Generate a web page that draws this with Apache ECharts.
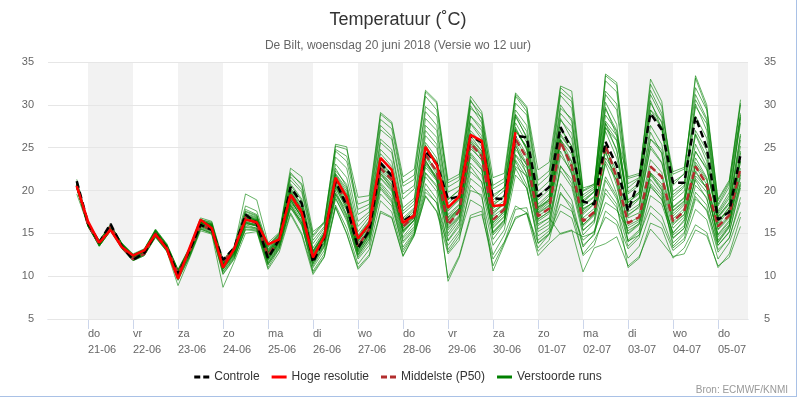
<!DOCTYPE html>
<html>
<head>
<meta charset="utf-8">
<title>Temperatuur De Bilt</title>
<script src="https://cdn.jsdelivr.net/npm/echarts@6/dist/echarts.min.js"></script>
<style>
  html, body { margin: 0; padding: 0; background: #fff; }
  #chart {
    width: 796px;
    height: 396px;
    border-right: 1px solid #a9c1e6;
    border-bottom: 1px solid #a9c1e6;
  }
</style>
</head>
<body>
<div id="chart"></div>
<script>
// tijdas: uren t.o.v. do 21-06 00 uur, eerste punt wo 20-06 18 uur, elke 6 uur
const stepHours = Array.from({ length: 60 }, (_, i) => -6 + 6 * i)

// dagen onder de as
const dayNames = ['do', 'vr', 'za', 'zo', 'ma', 'di', 'wo', 'do', 'vr', 'za', 'zo', 'ma', 'di', 'wo', 'do']
const dayDates = ['21-06', '22-06', '23-06', '24-06', '25-06', '26-06', '27-06', '28-06', '29-06', '30-06', '01-07', '02-07', '03-07', '04-07', '05-07']
const dayTicks = dayNames.map((_, d) => d * 24)

const yTicks = [5, 10, 15, 20, 25, 30, 35]

// Controle (zwart gestreept)
const controle = [
  21.1, 16.2, 13.9, 16.1, 13.5, 11.9, 12.7, 14.9, 13.3, 10.2, 12.9, 16.0, 15.4, 11.9, 13.3, 17.2, 16.2,
  12.1, 14.3, 20.4, 18.5, 11.6, 14.5, 21.1, 18.2, 13.3, 15.3, 23.2, 21.7,
  16.4, 17.3, 24.6, 23.1, 19.0, 19.3, 26.4, 25.6, 19.1, 19.0, 26.4, 26.2,
  19.3, 20.4, 27.4, 24.8, 18.7, 18.4, 25.7, 22.9, 17.6, 21.3, 29.0, 27.1,
  20.9, 20.9, 28.6, 25.0, 16.6, 17.5, 24.2
]

// Hoge resolutie (rood, 10 dagen)
const hogeResolutie = [
  20.5, 16.4, 13.9, 15.4, 13.4, 12.4, 13.0, 14.9, 13.2, 9.7, 13.2, 16.6, 15.6, 11.0, 13.2, 16.6, 16.3,
  13.7, 14.3, 19.5, 17.4, 12.2, 14.6, 21.5, 19.2, 14.4, 16.1, 23.8, 22.4,
  16.2, 17.1, 25.1, 23.0, 18.0, 19.3, 26.5, 25.8, 18.2, 18.3, 26.8
]

// Middelste (P50)
const middelste = [
  20.6, 16.0, 13.8, 15.8, 13.4, 12.0, 12.6, 15.0, 13.3, 10.3, 12.8, 16.0, 15.4, 11.6, 13.2, 16.9, 16.1,
  12.4, 14.2, 19.6, 17.6, 12.1, 14.4, 21.0, 18.6, 13.5, 15.5, 22.6, 21.3,
  15.8, 17.0, 24.2, 22.2, 16.0, 17.6, 25.5, 24.0, 16.6, 17.8, 26.0, 23.8,
  17.0, 17.9, 25.7, 22.8, 16.4, 17.5, 25.3, 21.5, 16.2, 16.9, 22.8, 21.6,
  16.4, 17.6, 22.8, 20.7, 15.8, 17.1, 22.6
]

// Verstoorde runs (ensemble-leden)
const verstoordeRuns = [
  [20.9, 16.2, 14.1, 15.9, 13.8, 12.4, 13.1, 15.3, 13.6, 10.6, 13.1, 16.5, 16.0, 11.6, 13.2, 17.5, 17.0, 13.0, 14.6, 21.2, 19.8, 13.8, 15.6, 23.9, 22.6, 16.4, 17.5, 27.1, 26.0, 19.0, 20.2, 29.8, 28.6, 19.8, 20.5, 30.4, 28.9, 20.2, 21.0, 31.0, 29.2, 20.6, 21.8, 31.5, 30.4, 19.9, 20.6, 32.8, 31.5, 20.8, 21.5, 32.4, 29.8, 21.0, 21.9, 33.1, 29.6, 18.2, 20.4, 30.2],
  [19.6, 15.9, 13.5, 15.3, 13.4, 12.0, 12.6, 14.8, 13.2, 10.0, 12.6, 15.8, 15.3, 10.8, 12.5, 16.0, 15.6, 11.6, 13.6, 18.0, 15.9, 11.2, 13.4, 19.2, 16.4, 12.2, 14.0, 19.6, 18.2, 13.4, 15.2, 20.8, 19.0, 12.8, 14.6, 18.9, 18.1, 12.5, 14.8, 18.2, 17.4, 13.3, 14.9, 17.6, 16.8, 12.6, 14.2, 16.9, 16.0, 12.1, 13.5, 17.4, 16.2, 13.0, 14.1, 17.8, 16.6, 12.0, 13.9, 17.5],
  [20.7, 16.1, 14.0, 15.8, 13.7, 12.5, 13.0, 15.2, 13.5, 10.5, 13.0, 16.3, 15.9, 11.4, 13.0, 16.9, 16.5, 12.5, 14.3, 19.8, 17.9, 12.3, 14.5, 21.4, 19.0, 13.8, 15.6, 23.0, 21.6, 15.9, 17.1, 24.8, 22.9, 16.5, 18.0, 26.4, 24.6, 17.2, 18.6, 27.0, 25.1, 17.8, 19.0, 28.2, 26.7, 18.4, 19.3, 29.5, 27.0, 18.6, 19.8, 29.0, 27.4, 19.5, 20.6, 30.1, 27.0, 17.0, 18.6, 28.4],
  [20.4, 15.8, 13.7, 15.5, 13.5, 12.2, 12.8, 15.0, 13.4, 10.2, 12.8, 16.0, 15.6, 11.1, 12.8, 16.5, 16.2, 12.0, 13.9, 18.6, 16.5, 11.5, 13.8, 20.0, 17.2, 12.6, 14.8, 21.5, 20.1, 15.0, 16.6, 23.6, 21.2, 14.2, 16.1, 22.8, 21.0, 15.1, 16.5, 24.2, 22.6, 16.4, 17.3, 25.4, 23.3, 17.2, 18.4, 27.3, 25.8, 18.3, 19.1, 26.0, 24.4, 16.0, 17.2, 22.1, 20.3, 14.6, 16.0, 21.0],
  [21.3, 16.3, 14.2, 16.0, 13.9, 12.6, 13.2, 15.5, 13.8, 10.8, 13.3, 16.8, 16.4, 11.9, 13.5, 18.2, 17.6, 13.6, 15.0, 22.1, 20.6, 14.6, 16.2, 24.6, 23.4, 17.8, 18.4, 28.3, 27.2, 20.5, 21.3, 31.0, 29.4, 20.9, 21.6, 30.6, 28.3, 19.2, 20.4, 28.8, 26.1, 17.5, 18.6, 25.9, 22.0, 16.0, 17.3, 23.1, 19.6, 14.2, 15.4, 20.6, 18.9, 15.1, 16.4, 21.2, 19.0, 14.0, 15.8, 20.8],
  [20.3, 15.9, 13.6, 15.4, 13.3, 11.9, 12.5, 14.6, 13.0, 9.8, 12.3, 15.6, 15.1, 10.5, 12.2, 15.4, 15.3, 11.0, 13.2, 17.4, 15.0, 10.6, 12.6, 18.3, 15.6, 11.4, 13.1, 18.8, 17.5, 12.8, 14.9, 19.8, 18.6, 9.8, 12.4, 17.1, 17.6, 11.2, 13.9, 17.8, 18.0, 12.9, 14.2, 19.6, 18.3, 13.4, 15.0, 21.2, 19.0, 14.0, 15.2, 22.0, 20.1, 14.8, 15.9, 23.3, 21.4, 13.9, 15.7, 24.6],
  [20.6, 16.0, 13.9, 15.7, 13.6, 12.3, 12.9, 15.1, 13.5, 10.4, 12.9, 16.2, 15.8, 11.3, 12.9, 16.8, 16.4, 12.4, 14.2, 19.6, 17.6, 12.1, 14.4, 21.0, 18.6, 13.5, 15.5, 22.6, 21.3, 15.8, 17.0, 24.2, 22.2, 16.0, 17.6, 25.5, 24.0, 16.6, 17.8, 26.0, 23.8, 17.0, 17.9, 25.7, 22.8, 16.4, 17.5, 25.3, 21.5, 16.2, 16.9, 22.8, 21.6, 16.4, 17.6, 22.8, 20.7, 15.8, 17.1, 22.6],
  [20.8, 16.1, 14.1, 15.9, 13.8, 12.4, 13.0, 15.3, 13.6, 10.6, 13.1, 16.4, 16.0, 11.5, 13.1, 17.2, 16.8, 13.2, 14.8, 20.6, 18.8, 13.0, 15.1, 22.6, 20.4, 14.6, 16.4, 24.3, 22.8, 16.8, 18.0, 26.4, 24.9, 17.6, 18.9, 27.8, 26.0, 18.4, 19.2, 28.6, 26.3, 18.1, 19.4, 29.0, 27.5, 19.5, 20.4, 33.4, 32.3, 19.8, 20.9, 30.5, 27.2, 18.0, 19.1, 26.5, 23.4, 16.4, 18.0, 25.9],
  [20.5, 16.0, 13.8, 15.6, 13.5, 12.1, 12.7, 14.9, 13.3, 10.1, 12.7, 16.0, 15.5, 11.0, 12.7, 16.2, 15.8, 11.8, 13.7, 18.4, 16.2, 10.4, 12.3, 18.1, 15.0, 11.0, 12.5, 17.6, 16.9, 12.4, 14.8, 19.4, 17.6, 13.6, 15.3, 21.4, 20.3, 14.3, 16.1, 22.8, 21.7, 15.5, 16.4, 24.1, 22.2, 15.8, 17.1, 24.6, 20.5, 14.9, 16.0, 21.3, 19.6, 13.5, 14.9, 19.8, 18.3, 13.1, 14.4, 19.2],
  [20.6, 16.1, 14.0, 15.8, 13.6, 12.3, 13.0, 15.1, 13.4, 10.3, 13.0, 16.3, 15.9, 11.2, 13.0, 16.7, 16.3, 12.7, 14.4, 19.2, 17.1, 12.6, 14.7, 21.8, 19.6, 14.1, 15.8, 23.4, 21.9, 16.2, 17.4, 25.1, 23.4, 16.9, 18.3, 26.7, 25.1, 17.6, 18.5, 27.9, 25.6, 18.9, 20.1, 29.6, 28.4, 19.2, 20.2, 31.6, 30.1, 20.3, 21.4, 33.0, 30.4, 20.6, 22.0, 33.4, 30.0, 18.8, 21.0, 30.6],
  [20.3, 15.9, 13.6, 15.4, 13.3, 11.9, 12.5, 14.7, 13.0, 9.5, 12.2, 15.5, 15.0, 10.2, 12.0, 15.7, 15.5, 11.3, 13.4, 17.9, 16.4, 11.8, 13.9, 19.6, 17.7, 12.8, 14.6, 20.9, 19.4, 14.4, 15.8, 22.1, 20.6, 13.1, 15.0, 20.0, 19.5, 10.6, 13.7, 16.9, 17.3, 12.4, 13.8, 15.0, 15.4, 10.5, 13.3, 13.8, 14.6, 11.2, 12.3, 15.5, 14.0, 12.3, 12.6, 15.4, 14.7, 11.2, 12.2, 15.8],
  [20.9, 16.2, 14.1, 16.0, 13.8, 12.5, 13.1, 15.4, 13.7, 10.7, 13.2, 16.6, 16.2, 11.7, 13.3, 17.8, 17.2, 13.4, 14.9, 21.6, 20.1, 14.2, 15.8, 24.8, 24.0, 18.4, 18.9, 28.9, 27.8, 20.9, 21.8, 31.5, 30.2, 20.4, 21.2, 29.9, 27.9, 18.2, 19.4, 27.4, 24.7, 18.0, 18.8, 26.4, 24.6, 17.9, 18.6, 27.4, 24.8, 17.2, 18.0, 25.2, 23.3, 17.6, 18.7, 24.5, 22.6, 16.6, 17.6, 23.8],
  [20.4, 15.9, 13.7, 15.6, 13.4, 12.1, 12.8, 14.9, 13.3, 10.2, 12.7, 15.9, 15.5, 10.9, 12.6, 16.3, 16.0, 12.1, 14.0, 18.9, 16.9, 11.9, 14.0, 20.3, 17.8, 12.9, 14.9, 21.4, 19.9, 14.6, 16.2, 22.7, 21.1, 15.0, 16.8, 23.9, 22.4, 15.6, 16.9, 24.1, 22.0, 15.9, 16.8, 22.3, 20.4, 14.8, 16.2, 21.6, 19.3, 15.3, 16.1, 20.4, 19.0, 15.0, 16.6, 21.4, 19.8, 14.9, 16.5, 21.5],
  [20.7, 16.1, 13.9, 15.8, 13.7, 12.4, 12.9, 15.2, 13.5, 10.5, 13.1, 16.4, 16.0, 11.4, 13.0, 17.0, 16.6, 12.8, 14.5, 20.1, 18.4, 12.7, 14.9, 22.3, 20.7, 15.2, 16.9, 25.6, 24.4, 17.6, 18.8, 27.6, 26.2, 18.5, 19.6, 28.7, 27.4, 19.5, 20.3, 30.2, 28.8, 19.9, 21.1, 31.1, 29.6, 18.6, 19.9, 30.3, 27.7, 17.8, 19.0, 27.6, 25.4, 18.8, 19.9, 28.7, 26.1, 17.4, 19.4, 27.9],
  [20.5, 16.0, 13.8, 15.6, 13.5, 12.2, 12.8, 15.0, 13.4, 10.3, 12.8, 16.1, 15.7, 11.2, 12.8, 16.6, 16.2, 12.3, 14.1, 19.3, 17.4, 12.9, 14.8, 21.6, 19.3, 14.0, 15.9, 22.9, 21.4, 15.4, 16.8, 23.4, 21.6, 16.8, 17.9, 25.8, 24.3, 16.0, 17.3, 25.2, 22.9, 17.3, 18.2, 26.6, 24.7, 18.7, 19.8, 28.1, 26.4, 21.4, 21.8, 29.4, 28.1, 21.9, 22.5, 31.2, 28.4, 18.4, 20.8, 28.8],
  [20.5, 15.9, 13.8, 15.5, 13.4, 12.1, 12.6, 14.9, 13.2, 10.0, 12.5, 15.8, 15.4, 10.8, 12.4, 16.1, 15.9, 11.9, 13.8, 18.7, 17.0, 12.0, 14.2, 20.6, 18.1, 13.2, 15.0, 22.0, 20.2, 15.3, 16.5, 23.2, 21.4, 15.6, 17.0, 24.2, 22.5, 15.0, 16.4, 23.4, 20.6, 13.8, 14.9, 19.8, 17.8, 12.4, 13.6, 17.6, 16.5, 13.2, 14.5, 19.4, 18.4, 14.5, 15.6, 21.7, 20.3, 14.2, 15.9, 23.4],
  [20.8, 16.2, 14.0, 15.9, 13.7, 12.4, 13.0, 15.3, 13.6, 10.6, 13.0, 16.4, 16.1, 11.5, 13.1, 17.3, 16.9, 13.1, 14.7, 20.8, 19.0, 13.3, 15.3, 23.1, 21.5, 15.8, 17.2, 26.0, 24.8, 18.0, 19.1, 28.4, 27.0, 19.0, 20.0, 29.6, 28.5, 20.6, 21.4, 31.2, 29.6, 21.2, 22.3, 32.0, 30.8, 20.0, 20.8, 29.7, 26.4, 18.1, 19.2, 26.8, 24.3, 17.0, 18.3, 25.4, 22.8, 16.0, 17.8, 24.4],
  [20.6, 16.0, 13.9, 15.7, 13.6, 12.3, 12.9, 15.1, 13.4, 10.4, 12.9, 16.2, 15.8, 11.3, 12.9, 16.9, 16.5, 12.6, 14.3, 19.9, 17.8, 12.4, 14.6, 21.2, 18.9, 13.6, 15.4, 22.4, 21.0, 15.6, 16.9, 24.0, 22.4, 16.2, 17.7, 25.7, 24.1, 17.0, 18.0, 26.4, 24.2, 17.4, 18.3, 26.0, 23.4, 16.8, 17.9, 24.6, 21.0, 14.1, 14.8, 18.2, 17.0, 13.3, 14.4, 19.0, 17.8, 13.6, 15.1, 20.3],
  [20.3, 15.8, 13.5, 15.3, 13.2, 11.8, 12.4, 14.6, 12.9, 9.6, 12.2, 15.5, 15.0, 10.3, 12.1, 15.5, 15.4, 11.4, 13.2, 18.2, 16.0, 11.0, 13.0, 19.0, 16.7, 12.0, 13.6, 20.2, 18.6, 13.9, 15.4, 21.6, 19.9, 9.4, 12.2, 16.8, 17.2, 12.0, 14.0, 16.7, 17.4, 13.9, 15.0, 18.4, 17.6, 14.2, 15.3, 19.7, 18.0, 13.5, 14.8, 20.8, 19.3, 13.9, 15.1, 19.3, 17.6, 12.8, 14.5, 18.6],
  [20.7, 16.1, 14.0, 15.8, 13.7, 12.4, 13.0, 15.2, 13.5, 10.5, 13.0, 16.3, 15.9, 11.4, 13.0, 17.1, 16.7, 12.9, 14.6, 20.3, 18.3, 12.8, 15.0, 21.9, 19.9, 14.4, 16.2, 23.8, 22.4, 16.6, 17.8, 25.6, 23.8, 17.2, 18.4, 27.0, 25.5, 17.9, 18.8, 27.2, 25.0, 18.0, 19.0, 27.4, 25.1, 17.8, 18.7, 26.9, 23.8, 17.5, 18.4, 24.9, 23.2, 17.7, 18.8, 24.6, 22.4, 16.9, 18.6, 25.2],
  [20.4, 15.9, 13.7, 15.5, 13.4, 12.2, 12.8, 15.0, 13.3, 10.2, 12.7, 16.0, 15.6, 11.0, 12.6, 16.4, 16.0, 12.2, 14.0, 19.1, 17.2, 12.2, 14.3, 20.8, 18.4, 13.4, 15.2, 22.2, 20.7, 15.2, 16.6, 23.4, 21.5, 15.8, 17.1, 24.9, 23.6, 16.3, 17.5, 25.4, 21.8, 16.1, 16.8, 14.9, 15.3, 14.6, 15.1, 18.6, 17.7, 15.6, 16.4, 22.1, 20.8, 16.2, 17.2, 23.0, 21.2, 15.4, 16.8, 22.0],
  [20.8, 16.1, 14.0, 15.9, 13.8, 12.5, 13.1, 15.3, 13.6, 10.6, 13.1, 16.5, 16.1, 11.6, 13.2, 17.6, 17.1, 13.5, 14.9, 21.9, 20.8, 14.8, 16.4, 25.2, 24.8, 19.2, 19.4, 29.1, 28.0, 21.6, 22.5, 31.7, 30.4, 21.2, 21.9, 31.0, 29.2, 21.5, 22.0, 31.4, 29.8, 22.4, 23.3, 32.2, 31.6, 20.3, 20.7, 33.6, 32.6, 21.6, 22.0, 31.7, 29.0, 22.2, 22.7, 32.0, 29.4, 19.0, 21.2, 30.0],
  [20.5, 16.0, 13.8, 15.6, 13.5, 12.2, 12.8, 15.0, 13.4, 10.3, 12.8, 16.0, 15.6, 11.1, 12.7, 16.3, 15.9, 12.0, 13.9, 18.9, 16.8, 11.6, 13.6, 19.7, 17.1, 12.4, 14.3, 20.7, 19.0, 14.1, 15.6, 22.0, 20.4, 14.7, 16.4, 23.2, 21.8, 15.8, 17.0, 24.8, 23.0, 16.6, 17.6, 25.9, 24.2, 17.4, 18.5, 27.8, 25.9, 18.6, 19.6, 29.4, 27.4, 19.2, 20.4, 29.8, 27.8, 17.2, 19.1, 28.6],
  [20.6, 16.0, 13.8, 15.7, 13.6, 12.3, 12.9, 15.1, 13.5, 10.4, 12.9, 16.2, 15.8, 11.3, 12.9, 16.8, 16.4, 12.4, 14.1, 19.4, 17.5, 12.0, 14.3, 20.6, 18.2, 13.1, 15.1, 22.0, 20.6, 15.6, 16.9, 23.9, 21.9, 16.4, 17.8, 25.2, 23.5, 16.2, 17.6, 25.6, 23.1, 16.7, 17.5, 24.6, 21.9, 16.0, 17.2, 24.9, 22.3, 16.8, 17.4, 23.6, 22.1, 16.7, 17.9, 23.8, 21.5, 15.5, 17.0, 23.4],
  [20.4, 15.9, 13.7, 15.5, 13.4, 12.1, 12.7, 14.9, 13.3, 10.1, 12.6, 15.9, 15.5, 11.0, 12.6, 16.2, 15.9, 12.1, 14.0, 19.0, 16.8, 12.2, 14.4, 20.4, 17.9, 13.0, 15.0, 21.8, 20.4, 15.2, 16.5, 23.0, 21.3, 15.4, 16.9, 24.4, 22.8, 14.8, 16.2, 22.6, 20.2, 14.2, 15.3, 20.8, 18.9, 13.6, 14.8, 20.2, 18.4, 11.0, 12.1, 16.2, 15.6, 12.1, 13.3, 16.0, 15.1, 11.0, 12.6, 16.9],
  [20.7, 16.1, 13.9, 15.8, 13.7, 12.4, 13.0, 15.2, 13.5, 10.5, 13.0, 16.3, 15.9, 11.4, 13.0, 17.0, 16.6, 12.8, 14.5, 20.0, 18.1, 12.9, 15.0, 22.0, 20.2, 14.8, 16.5, 24.8, 23.4, 17.3, 18.4, 27.0, 25.4, 17.8, 19.0, 27.9, 26.4, 18.6, 19.4, 28.9, 26.9, 18.4, 19.6, 28.4, 26.0, 17.6, 18.8, 27.9, 24.6, 17.0, 18.2, 26.0, 24.8, 17.3, 18.5, 26.6, 24.0, 16.2, 18.1, 26.4],
  [20.4, 15.8, 13.6, 15.4, 13.3, 12.0, 12.6, 14.8, 13.1, 9.9, 12.4, 15.7, 15.2, 10.6, 12.3, 15.8, 15.6, 11.5, 13.5, 18.3, 16.2, 11.4, 13.5, 19.5, 16.9, 12.5, 14.4, 20.4, 18.8, 13.1, 15.0, 20.2, 18.5, 14.1, 15.8, 22.2, 21.0, 15.2, 16.6, 23.6, 21.5, 15.2, 16.0, 22.9, 20.8, 15.3, 16.6, 23.4, 21.2, 15.0, 16.2, 22.0, 20.4, 15.6, 16.9, 22.3, 20.2, 14.8, 16.3, 21.8],
  [20.9, 16.2, 14.1, 16.0, 13.8, 12.5, 13.1, 15.4, 13.7, 10.7, 13.2, 16.6, 16.3, 11.8, 13.4, 19.6, 18.9, 13.9, 15.1, 22.6, 21.6, 15.2, 16.2, 25.4, 25.1, 17.2, 18.0, 27.6, 26.3, 19.6, 20.6, 29.2, 27.6, 18.9, 20.1, 28.7, 27.0, 18.9, 20.0, 29.4, 27.6, 19.4, 20.5, 30.0, 28.1, 18.9, 19.9, 31.2, 29.4, 19.6, 20.6, 31.2, 28.6, 19.9, 20.9, 30.6, 28.2, 17.6, 19.8, 29.0],
  [20.3, 15.9, 13.5, 15.3, 13.3, 11.8, 12.4, 14.5, 12.9, 8.9, 12.0, 15.3, 14.9, 8.7, 11.7, 15.0, 15.2, 10.8, 12.8, 17.2, 14.8, 10.2, 12.2, 18.0, 14.9, 10.8, 12.3, 17.4, 16.8, 12.3, 14.7, 19.3, 17.5, 12.6, 14.2, 20.6, 19.2, 13.6, 15.4, 21.8, 20.3, 14.7, 15.6, 22.8, 21.3, 15.4, 16.4, 23.8, 21.8, 15.9, 16.6, 21.8, 20.0, 14.4, 15.6, 20.6, 19.2, 13.6, 15.2, 20.6],
  [20.6, 16.0, 13.9, 15.7, 13.6, 12.3, 12.9, 15.1, 13.4, 10.4, 12.9, 16.2, 15.8, 11.3, 12.9, 16.9, 16.5, 12.6, 14.4, 19.7, 17.8, 12.5, 14.6, 21.5, 19.4, 14.2, 15.9, 23.2, 21.8, 16.4, 17.6, 25.3, 23.2, 16.6, 17.9, 26.0, 24.6, 17.4, 18.4, 27.0, 24.9, 17.7, 18.8, 27.2, 25.2, 18.2, 19.2, 28.8, 26.9, 18.9, 19.8, 30.2, 27.9, 18.1, 19.2, 27.0, 24.7, 16.8, 18.4, 26.6]
]

const FONT = 'Liberation Sans, Arial, sans-serif'

const toPairs = vals => vals.map((v, i) => [stepHours[i], v])

// grijze banden om de dag
const bandPairs = dayTicks.filter((_, d) => d % 2 === 0).map(h => [{ xAxis: h }, { xAxis: h + 24 }])

// legenda-iconen: gevuld pad, twee streepjes of een balkje
const DASH_ICON = 'path://M0,0H6V3H0Z M9,0H15V3H9Z'
const SOLID_ICON = 'path://M0,0H15V3H0Z'

const chart = echarts.init(document.getElementById('chart'), null, { renderer: 'canvas' })

const memberSeries = verstoordeRuns.map(run => ({
  name: 'Verstoorde runs',
  type: 'line',
  data: toPairs(run),
  symbol: 'none',
  silent: true,
  z: 3,
  lineStyle: { color: '#008000', width: 1, opacity: 0.6 },
  itemStyle: { color: '#008000' },
  emphasis: { disabled: true }
}))

const option = {
  animation: false,
  backgroundColor: '#fff',
  textStyle: { fontFamily: FONT },
  title: {
    text: 'Temperatuur (\u02DAC)',
    subtext: 'De Bilt, woensdag 20 juni 2018 (Versie wo 12 uur)',
    left: 'center',
    top: 6,
    itemGap: 11,
    textStyle: { fontSize: 18, fontWeight: 'normal', color: '#333', fontFamily: FONT },
    subtextStyle: { fontSize: 12, color: '#666', fontFamily: FONT }
  },
  legend: {
    top: 366,
    left: 'center',
    itemWidth: 15,
    itemHeight: 3,
    itemGap: 12,
    textStyle: { fontSize: 12, color: '#333', fontFamily: FONT },
    data: [
      { name: 'Controle', icon: DASH_ICON, itemStyle: { color: '#000' } },
      { name: 'Hoge resolutie', icon: SOLID_ICON, itemStyle: { color: '#ff0000' } },
      { name: 'Middelste (P50)', icon: DASH_ICON, itemStyle: { color: '#b22d2d' } },
      { name: 'Verstoorde runs', icon: SOLID_ICON, itemStyle: { color: '#008000', opacity: 1 } }
    ]
  },
  graphic: [{
    type: 'text',
    right: 8,
    top: 385,
    style: { text: 'Bron: ECMWF/KNMI', fontSize: 10, fill: '#999', fontFamily: FONT }
  }],
  grid: { left: 48, right: 48, top: 62, bottom: 77 },
  xAxis: {
    type: 'value',
    min: -64 / 3,
    max: 352,
    splitLine: { show: false },
    axisLine: { show: true, onZero: false, lineStyle: { color: '#ccd6eb' } },
    axisTick: { show: true, length: 10, customValues: dayTicks, lineStyle: { color: '#ccd6eb' } },
    axisLabel: {
      customValues: dayTicks,
      formatter: v => dayNames[v / 24] + '\n' + dayDates[v / 24],
      align: 'left',
      margin: 7,
      lineHeight: 16,
      fontSize: 11,
      color: '#666',
      fontFamily: FONT
    }
  },
  yAxis: [
    {
      type: 'value',
      min: yTicks[0],
      max: yTicks[yTicks.length - 1],
      interval: 5,
      z: 2,
      axisLine: { show: false },
      axisTick: { show: false },
      splitLine: { lineStyle: { color: '#e6e6e6' } },
      axisLabel: { margin: 14, fontSize: 11, color: '#666', fontFamily: FONT }
    },
    {
      type: 'value',
      position: 'right',
      min: yTicks[0],
      max: yTicks[yTicks.length - 1],
      interval: 5,
      axisLine: { show: false },
      axisTick: { show: false },
      splitLine: { show: false },
      axisLabel: { margin: 16, fontSize: 11, color: '#666', fontFamily: FONT }
    }
  ],
  series: [
    {
      name: 'dagbanden',
      type: 'line',
      data: [],
      silent: true,
      z: 1,
      markArea: {
        silent: true,
        itemStyle: { color: '#f2f2f2' },
        data: bandPairs
      }
    },
    ...memberSeries,
    {
      name: 'Middelste (P50)',
      type: 'line',
      data: toPairs(middelste),
      symbol: 'none',
      silent: true,
      z: 4,
      lineStyle: { color: '#b22d2d', width: 2.5, type: [7, 4] },
      itemStyle: { color: '#b22d2d' }
    },
    {
      name: 'Controle',
      type: 'line',
      data: toPairs(controle),
      symbol: 'none',
      silent: true,
      z: 5,
      lineStyle: { color: '#000', width: 2.5, type: [7, 4] },
      itemStyle: { color: '#000' }
    },
    {
      name: 'Hoge resolutie',
      type: 'line',
      data: toPairs(hogeResolutie),
      symbol: 'none',
      silent: true,
      z: 6,
      lineStyle: { color: '#ff0000', width: 2.5 },
      itemStyle: { color: '#ff0000' }
    }
  ]
}

chart.setOption(option)
</script>
</body>
</html>
